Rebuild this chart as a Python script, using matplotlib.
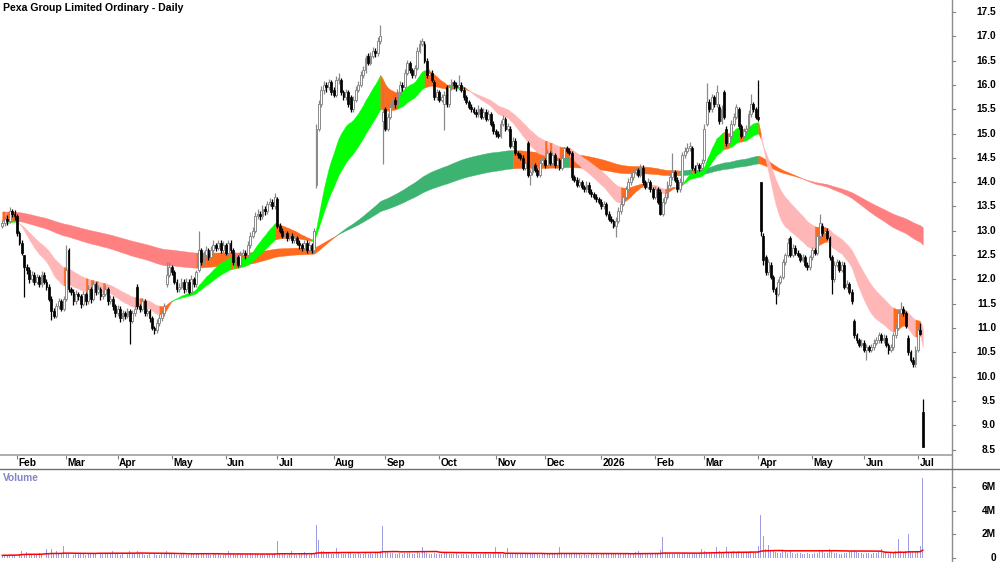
import numpy as np
import pandas as pd
import matplotlib
matplotlib.use("Agg")
import matplotlib.pyplot as plt
from matplotlib.lines import Line2D
from matplotlib.transforms import blended_transform_factory

plt.rcParams['font.family'] = ['Liberation Sans', 'DejaVu Sans']

title = "Pexa Group Limited Ordinary - Daily"
start_date = "2025-01-24"

opens = [
13.10,13.15,13.25,13.20,13.40,13.35,13.30,12.95,12.75,12.50,12.25,12.20,12.00,12.10,11.95,12.05,11.90,12.10,11.95,11.85,
11.60,11.35,11.25,11.45,11.55,11.40,11.60,12.60,11.80,11.75,11.55,11.70,11.65,11.50,11.70,11.55,11.80,11.60,11.90,11.75,
11.80,11.65,11.70,11.80,11.55,11.60,11.45,11.30,11.40,11.20,11.30,11.25,11.35,11.15,11.30,11.85,11.45,11.40,11.55,11.30,
11.35,11.20,11.00,10.95,11.10,11.20,11.30,11.90,12.10,12.25,12.15,11.95,11.80,11.85,11.95,11.80,11.95,11.75,12.00,11.90,
12.20,12.60,12.35,12.50,12.60,12.45,12.60,12.70,12.65,12.75,12.60,12.70,12.55,12.75,12.60,12.35,12.45,12.30,12.50,12.55,
12.50,12.70,12.90,13.00,13.30,13.35,13.30,13.45,13.40,13.55,13.60,13.50,13.65,13.10,13.00,12.90,12.95,12.85,12.90,12.80,
12.85,12.75,12.70,12.65,12.75,12.60,12.70,12.60,13.95,15.10,15.60,15.90,16.00,15.95,16.05,15.90,15.80,16.10,16.10,15.85,
15.75,15.85,15.76,15.50,15.70,15.90,16.00,16.20,16.30,16.60,16.45,16.60,16.70,16.65,16.90,15.25,15.50,15.10,15.35,15.55,
15.70,15.60,15.85,16.00,15.95,16.25,16.45,16.30,16.20,16.35,16.70,16.85,16.85,16.50,16.20,16.25,16.05,15.75,15.85,15.70,
15.60,15.95,15.60,15.95,16.05,16.00,15.95,16.00,15.90,15.75,15.65,15.55,15.50,15.45,15.40,15.50,15.35,15.45,15.30,15.40,
15.20,15.05,15.00,14.95,15.20,15.30,15.10,15.10,14.75,14.85,14.60,14.55,14.50,14.30,14.80,14.15,14.20,14.35,14.25,14.15,
14.40,14.45,14.35,14.60,14.40,14.55,14.35,14.45,14.30,14.50,14.70,14.65,14.60,14.10,14.05,13.95,14.00,13.90,13.85,13.95,
13.80,13.75,13.70,13.65,13.60,13.50,13.55,13.35,13.25,13.20,13.10,13.20,13.40,13.55,13.70,13.85,14.00,14.10,14.20,14.25,
14.15,14.30,14.00,13.90,14.00,13.85,13.70,13.85,13.80,13.35,13.60,13.70,13.95,14.10,14.20,14.05,13.85,14.00,14.55,14.65,
14.70,14.70,14.30,14.25,14.35,14.30,14.45,15.20,15.65,15.50,15.75,15.60,15.55,15.25,15.85,15.10,14.80,14.95,15.20,15.35,
15.50,15.15,14.95,15.05,15.10,15.40,15.60,15.50,15.35,14.00,12.90,12.45,12.15,12.30,12.05,11.80,11.70,11.95,12.05,12.35,
12.50,12.85,12.50,12.65,12.55,12.50,12.40,12.45,12.30,12.25,12.45,12.60,12.55,12.90,13.10,12.95,13.00,12.85,12.45,12.00,
12.30,12.35,12.20,12.30,11.85,11.90,11.75,11.15,10.85,10.75,10.65,10.70,10.55,10.60,10.55,10.60,10.70,10.75,10.85,10.75,
10.80,10.65,10.55,10.60,10.85,11.00,11.30,11.40,11.30,10.80,10.50,10.35,10.25,10.55,10.95,9.27]

highs = [
13.22,13.30,13.32,13.49,13.45,13.42,13.35,13.00,12.82,12.50,12.32,12.25,12.18,12.15,12.12,12.10,12.18,12.15,12.00,11.90,
11.65,11.42,11.52,11.62,11.60,11.66,12.70,12.65,11.85,11.80,11.78,11.75,11.70,11.76,11.75,11.88,11.85,11.98,11.95,11.88,
11.85,11.78,11.88,11.85,11.68,11.65,11.50,11.48,11.45,11.38,11.35,11.42,11.40,11.38,11.48,11.90,11.50,11.62,11.60,11.42,
11.40,11.25,11.05,11.18,11.28,11.38,11.52,12.35,12.36,12.30,12.20,12.00,11.92,12.02,12.00,12.02,12.00,12.08,12.05,12.20,
13.00,12.65,12.58,12.68,12.65,12.68,12.80,12.75,12.82,12.80,12.78,12.75,12.82,12.80,12.65,12.52,12.50,12.58,12.62,12.60,
12.78,12.98,13.08,13.38,13.45,13.40,13.52,13.50,13.62,13.68,13.65,13.77,13.70,13.15,13.05,13.02,13.00,12.98,12.95,12.92,
12.90,12.80,12.75,12.82,12.80,12.78,12.75,13.05,15.20,15.68,15.98,16.08,16.05,16.12,16.10,15.95,16.18,16.24,16.15,15.90,
15.92,15.90,15.80,15.78,15.98,16.08,16.28,16.38,16.62,16.65,16.68,16.78,16.75,16.98,17.23,16.00,15.55,15.42,15.62,15.78,
15.75,15.92,16.08,16.05,16.32,16.52,16.50,16.35,16.42,16.78,16.92,16.96,16.90,16.55,16.32,16.30,16.10,15.92,15.90,15.82,
15.88,16.00,16.02,16.12,16.10,16.05,16.20,16.05,15.95,15.80,15.70,15.60,15.55,15.50,15.58,15.55,15.52,15.50,15.48,15.45,
15.25,15.10,15.05,15.28,15.38,15.35,15.22,15.15,14.92,14.90,14.65,14.60,14.55,14.48,14.85,14.28,14.42,14.40,14.30,14.48,
14.52,14.50,14.68,14.65,14.62,14.60,14.52,14.50,14.58,14.73,14.75,14.70,14.65,14.15,14.10,14.08,14.05,13.95,14.02,14.00,
13.85,13.80,13.75,13.70,13.65,13.62,13.60,13.40,13.30,13.25,13.28,13.48,13.62,13.78,13.92,14.08,14.18,14.28,14.32,14.30,
14.38,14.35,14.05,14.08,14.05,13.90,13.92,13.90,13.85,13.68,13.78,14.02,14.18,14.59,14.25,14.10,14.08,14.62,14.72,14.80,
14.82,14.75,14.35,14.42,14.40,14.48,15.20,16.03,15.72,15.82,15.80,15.99,15.60,15.58,15.90,15.15,15.02,15.28,15.42,15.60,
15.55,15.20,15.12,15.18,15.48,15.82,15.65,15.55,16.10,14.00,12.95,12.50,12.42,12.35,12.10,11.85,12.00,12.10,12.42,12.55,
12.85,12.90,12.72,12.70,12.60,12.55,12.52,12.50,12.35,12.50,12.67,12.65,12.98,13.35,13.15,13.08,13.05,12.90,12.50,12.38,
12.42,12.40,12.38,12.35,11.98,11.95,11.80,11.18,10.90,10.80,10.78,10.75,10.68,10.65,10.68,10.78,10.82,10.92,10.90,10.88,
10.85,10.70,10.68,10.92,11.08,11.38,11.53,11.45,11.35,10.85,10.55,10.40,10.62,11.02,11.10,9.54]

lows = [
13.05,13.10,13.12,13.15,13.28,13.22,12.90,12.70,12.50,11.64,12.12,11.92,11.95,11.88,11.90,11.85,11.85,11.90,11.78,11.55,
11.16,11.20,11.20,11.40,11.35,11.35,11.55,11.75,11.68,11.48,11.50,11.58,11.42,11.45,11.48,11.50,11.52,11.55,11.68,11.70,
11.58,11.60,11.65,11.48,11.50,11.38,11.22,11.25,11.12,11.15,11.18,11.20,10.68,11.10,11.25,11.40,11.32,11.35,11.25,11.25,
11.12,10.95,10.88,10.90,11.05,11.15,11.25,11.85,12.05,12.08,11.90,11.75,11.75,11.80,11.72,11.75,11.70,11.70,11.85,11.85,
12.15,12.30,12.30,12.45,12.40,12.40,12.55,12.58,12.60,12.55,12.55,12.50,12.50,12.55,12.30,12.28,12.25,12.25,12.45,12.42,
12.45,12.65,12.85,12.95,13.25,13.22,13.25,13.32,13.35,13.50,13.45,13.45,13.05,12.95,12.85,12.85,12.78,12.80,12.75,12.75,
12.70,12.62,12.58,12.60,12.55,12.55,12.55,12.55,13.87,15.05,15.55,15.82,15.85,15.90,15.80,15.75,15.75,16.02,15.80,15.70,
15.70,15.55,15.45,15.45,15.65,15.85,15.95,16.15,16.25,16.40,16.40,16.55,16.58,16.60,16.85,14.38,15.05,15.05,15.30,15.50,
15.52,15.55,15.80,15.88,15.90,16.20,16.25,16.15,16.15,16.30,16.65,16.80,16.45,16.15,16.15,16.05,15.70,15.70,15.65,15.65,
15.07,15.55,15.55,15.90,15.92,15.88,15.90,15.85,15.70,15.60,15.50,15.45,15.40,15.35,15.35,15.30,15.30,15.25,15.25,15.15,
15.00,14.92,14.90,14.90,15.15,15.05,15.05,14.70,14.70,14.55,14.50,14.45,14.25,14.25,14.10,13.94,14.15,14.20,14.10,14.10,
14.35,14.30,14.30,14.35,14.35,14.30,14.30,14.25,14.25,14.45,14.60,14.55,14.05,14.00,13.90,13.90,13.85,13.80,13.80,13.75,
13.70,13.65,13.60,13.55,13.45,13.45,13.30,13.20,13.15,13.05,12.87,13.15,13.35,13.50,13.65,13.80,13.95,14.05,14.15,14.10,
14.10,13.95,13.85,13.85,13.80,13.65,13.65,13.55,13.32,13.30,13.55,13.65,13.90,14.05,14.00,13.80,13.80,13.95,14.50,14.60,
14.65,14.25,14.18,14.20,14.22,14.25,14.40,15.15,15.45,15.45,15.55,15.55,15.20,15.20,15.30,14.75,14.75,14.90,15.15,15.30,
15.10,14.90,14.90,15.00,15.05,15.35,15.45,15.30,15.25,12.90,12.30,12.10,12.10,12.00,11.75,11.50,11.65,11.90,12.00,12.30,
12.45,12.45,12.45,12.50,12.45,12.35,12.35,12.25,12.19,12.20,12.40,12.50,12.50,12.85,12.90,12.90,12.80,12.40,11.70,11.95,
12.25,12.15,12.15,11.80,11.80,11.70,11.50,10.80,10.70,10.60,10.60,10.50,10.35,10.50,10.50,10.55,10.65,10.70,10.70,10.70,
10.60,10.47,10.50,10.55,10.80,10.95,11.25,11.25,11.00,10.45,10.30,10.20,10.20,10.50,10.85,8.55]

closes = [
13.15,13.25,13.20,13.40,13.35,13.30,12.95,12.75,12.55,12.25,12.20,12.00,12.10,11.95,12.05,11.90,12.10,11.95,11.85,11.60,
11.35,11.25,11.45,11.55,11.40,11.60,12.20,11.80,11.75,11.55,11.70,11.65,11.50,11.70,11.55,11.80,11.60,11.90,11.75,11.80,
11.65,11.70,11.80,11.55,11.60,11.45,11.30,11.40,11.20,11.30,11.25,11.35,11.15,11.30,11.40,11.45,11.40,11.55,11.30,11.35,
11.20,11.00,10.95,11.10,11.20,11.30,11.45,12.10,12.25,12.15,11.95,11.80,11.85,11.95,11.80,11.95,11.75,12.00,11.90,12.15,
12.60,12.35,12.50,12.60,12.45,12.60,12.70,12.65,12.75,12.60,12.70,12.55,12.75,12.60,12.35,12.45,12.30,12.50,12.55,12.50,
12.70,12.90,13.00,13.30,13.35,13.30,13.45,13.40,13.55,13.60,13.50,13.70,13.10,13.00,12.90,12.95,12.85,12.90,12.80,12.85,
12.75,12.70,12.65,12.75,12.60,12.70,12.60,13.00,15.10,15.60,15.90,16.00,15.95,16.05,15.85,15.80,16.10,16.15,15.85,15.75,
15.85,15.60,15.50,15.70,15.90,16.00,16.20,16.30,16.55,16.45,16.60,16.70,16.65,16.90,17.00,15.45,15.10,15.35,15.55,15.70,
15.60,15.85,16.00,15.95,16.25,16.45,16.30,16.20,16.35,16.70,16.85,16.90,16.50,16.20,16.25,16.10,15.75,15.85,15.70,15.75,
15.80,15.60,15.95,16.05,16.00,15.95,16.00,15.90,15.75,15.65,15.55,15.50,15.45,15.40,15.50,15.35,15.45,15.30,15.40,15.20,
15.05,15.00,14.95,15.20,15.30,15.10,15.15,14.75,14.85,14.60,14.55,14.50,14.30,14.40,14.15,14.20,14.35,14.25,14.15,14.40,
14.45,14.35,14.60,14.40,14.55,14.35,14.45,14.30,14.50,14.70,14.65,14.60,14.10,14.05,13.95,14.00,13.90,13.85,13.95,13.80,
13.75,13.70,13.65,13.60,13.50,13.55,13.35,13.25,13.20,13.10,13.20,13.40,13.55,13.70,13.85,14.00,14.10,14.20,14.25,14.15,
14.30,14.00,13.90,14.00,13.85,13.70,13.85,13.60,13.35,13.60,13.70,13.95,14.10,14.20,14.05,13.85,14.00,14.55,14.65,14.70,
14.75,14.30,14.25,14.35,14.30,14.40,15.10,15.65,15.50,15.75,15.60,15.85,15.25,15.50,15.35,14.80,14.95,15.20,15.35,15.55,
15.15,14.95,15.05,15.10,15.40,15.60,15.50,15.35,15.30,13.00,12.40,12.15,12.35,12.05,11.80,11.70,11.95,12.05,12.35,12.50,
12.75,12.50,12.65,12.55,12.50,12.40,12.45,12.30,12.25,12.45,12.60,12.55,12.90,13.15,12.95,13.00,12.85,12.45,12.00,12.30,
12.35,12.20,12.30,11.85,11.90,11.75,11.55,10.85,10.75,10.65,10.70,10.55,10.60,10.55,10.60,10.70,10.75,10.85,10.75,10.80,
10.65,10.55,10.60,10.85,11.00,11.30,11.40,11.30,11.05,10.50,10.35,10.25,10.55,10.95,10.88,8.55]

volume_m = [
0.22,0.25,0.20,0.28,0.24,0.22,0.30,0.35,0.55,0.32,0.50,0.30,0.28,0.35,0.33,0.40,0.30,0.75,0.75,0.38,
0.75,0.40,0.60,0.35,0.30,1.00,0.45,0.40,0.28,0.25,0.30,0.35,0.40,0.32,0.28,0.35,0.30,0.38,0.33,0.85,
0.40,0.35,0.30,0.38,0.42,0.55,0.36,0.30,0.28,0.40,0.33,0.35,0.60,0.45,0.30,0.55,0.40,0.35,0.28,0.25,
0.30,0.26,0.35,0.28,0.24,0.30,0.32,0.60,0.45,0.38,0.30,0.28,0.25,0.30,0.35,0.28,0.22,0.30,0.33,0.40,
0.45,0.40,0.35,0.38,0.30,0.28,0.35,0.30,0.32,0.28,0.25,0.30,0.55,0.35,0.30,0.28,0.40,0.33,0.30,0.28,
0.35,0.40,0.38,0.30,0.33,0.28,0.30,0.26,0.35,0.30,0.32,0.40,1.45,0.45,0.35,0.30,0.28,0.32,0.55,0.30,
0.28,0.30,0.35,0.50,0.30,0.28,0.33,0.40,2.80,1.50,0.60,0.55,0.50,0.40,0.38,0.35,0.85,0.40,0.35,0.33,
0.38,0.45,0.40,0.35,0.30,0.40,0.35,0.33,0.45,0.38,0.40,0.35,0.50,0.45,0.55,2.70,0.60,0.50,0.45,0.40,
0.38,0.35,0.40,0.33,0.45,0.40,0.42,0.38,0.35,0.50,0.45,0.90,0.50,0.40,0.35,0.33,0.40,0.38,0.30,0.35,
0.45,0.40,0.35,0.30,0.33,0.40,0.28,0.30,0.35,0.30,0.28,0.33,0.30,0.35,0.28,0.30,0.33,0.40,0.30,0.35,
0.45,0.90,0.40,0.35,0.30,0.33,0.85,0.45,0.40,0.35,0.38,0.30,0.33,0.40,0.45,0.38,0.35,0.30,0.33,0.28,
0.30,0.35,0.38,0.30,0.40,0.45,0.35,0.95,0.40,0.33,0.30,0.35,0.45,0.38,0.30,0.33,0.28,0.30,0.25,0.28,
0.30,0.35,0.33,0.28,0.30,0.35,0.40,0.38,0.33,0.45,0.40,0.35,0.38,0.40,0.33,0.30,0.35,0.45,0.50,0.55,
0.45,0.40,0.38,0.35,0.40,0.45,0.38,0.40,0.70,1.80,0.50,0.45,0.40,0.38,0.35,0.40,0.33,0.45,0.40,0.35,
0.38,0.40,0.35,0.33,0.40,0.75,0.55,0.50,0.45,0.40,0.50,0.90,0.55,0.45,0.50,0.90,0.45,0.40,0.55,0.50,
0.60,0.45,0.50,0.40,0.45,0.55,0.50,0.45,1.00,3.60,1.90,0.80,1.10,0.60,0.55,0.50,0.45,0.40,0.70,0.50,
0.45,0.55,0.40,0.35,0.45,0.40,0.38,0.33,0.40,0.35,0.38,0.45,0.40,0.55,0.60,0.45,0.40,0.80,0.55,0.45,
0.40,0.35,0.38,0.45,0.40,0.50,0.55,0.65,0.50,0.45,0.40,0.38,0.45,0.40,0.35,0.40,0.45,0.50,0.80,0.45,
0.40,0.38,0.45,0.50,0.55,1.60,0.55,0.50,0.60,2.00,0.55,0.50,0.60,0.55,1.00,6.80]

price_ticks = [8.5, 9.0, 9.5, 10.0, 10.5, 11.0, 11.5, 12.0, 12.5, 13.0, 13.5,
               14.0, 14.5, 15.0, 15.5, 16.0, 16.5, 17.0, 17.5]
volume_ticks = [0, 2, 4, 6]
volume_tick_labels = ["0", "2M", "4M", "6M"]
month_names = ["Jan", "Feb", "Mar", "Apr", "May", "Jun", "Jul", "Aug", "Sep",
               "Oct", "Nov", "Dec"]

short_periods = (18, 35)
long_periods = (150, 220)
long_band_start = (13.20, 13.40)   # long averages at the left edge of the chart
volume_ma_period = 50

# ---------------------------------------------------------------------------
o = np.array(opens); h = np.array(highs); l = np.array(lows); c = np.array(closes)
vol = np.array(volume_m)
n = len(c)
x = np.arange(n)
dates = pd.bdate_range(start_date, periods=n)

W, H = 1000, 562
fig = plt.figure(figsize=(W / 100, H / 100), dpi=100)
fig.patch.set_facecolor("white")

main_bottom = 455
vol_top = 469
ax = fig.add_axes([0, 1 - main_bottom / H, 952 / W, main_bottom / H])
vax = fig.add_axes([0, 0, 952 / W, (H - vol_top) / H])

x_left, x_right = -0.925, 386.9
ax.set_xlim(x_left, x_right)
vax.set_xlim(x_left, x_right)
ax.set_ylim(8.387, 17.747)
vax.set_ylim(-0.338, 7.52)

def ema(vals, span, seed=None):
    alpha = 2.0 / (span + 1)
    out = np.empty(len(vals))
    prev = vals[0] if seed is None else seed
    for i, v in enumerate(vals):
        prev = prev + alpha * (v - prev)
        out[i] = prev
    return out

def band_colors(fast, slow, up, down, mixed):
    d = np.diff(fast, prepend=fast[0])
    cols = []
    for f, s, dd in zip(fast, slow, d):
        if f > s and dd > 0:
            cols.append(up)
        elif f < s and dd < 0:
            cols.append(down)
        else:
            cols.append(mixed)
    return cols

def fill_band(axis, fast, slow, cols, z):
    lo = np.minimum(fast, slow)
    hi = np.maximum(fast, slow)
    start = 0
    for i in range(1, n + 1):
        if i == n or cols[i] != cols[start]:
            s0 = max(start - 1, 0)
            axis.fill_between(x[s0:i], lo[s0:i], hi[s0:i], color=cols[start],
                              linewidth=0.3, edgecolor=cols[start], zorder=z)
            start = i

ORANGE = "#ff6a1f"
lf = ema(c, long_periods[0], long_band_start[0])
ls = ema(c, long_periods[1], long_band_start[1])
sf, ss = ema(c, short_periods[0]), ema(c, short_periods[1])
fill_band(ax, lf, ls, band_colors(lf, ls, "#3cb371", "#ff8080", ORANGE), 1)
fill_band(ax, sf, ss, band_colors(sf, ss, "#00ff00", "#ffb6b6", ORANGE), 2)

up = c >= o
dn = ~up
ax.vlines(x[up], l[up], h[up], color="#8a8a8a", linewidth=0.9, zorder=3)
ax.vlines(x[dn], l[dn], h[dn], color="black", linewidth=0.9, zorder=3)
body_up = np.maximum(c[up] - o[up], 0.02)
body_dn = np.maximum(o[dn] - c[dn], 0.02)
ax.bar(x[up], body_up, bottom=o[up], width=0.75, color="white",
       edgecolor="#8a8a8a", linewidth=0.7, zorder=4)
ax.bar(x[dn], body_dn, bottom=c[dn], width=0.75, color="black",
       edgecolor="black", linewidth=0.5, zorder=4)

# volume
vax.bar(x, vol, width=0.4, color="#9d9de0", linewidth=0, zorder=2)
vma = pd.Series(vol).rolling(volume_ma_period, min_periods=1).mean().to_numpy()
vax.plot(x, vma, color="#ff0000", linewidth=1.1, zorder=3)

for a in (ax, vax):
    for s in a.spines.values():
        s.set_visible(False)
    a.set_yticks([])
    a.tick_params(left=False, right=False, labelleft=False, labelright=False)
    a.set_facecolor("white")

# month ticks
tick_pos, tick_lab = [], []
for i in range(1, n):
    if dates[i].month != dates[i - 1].month:
        tick_pos.append(i)
        d = dates[i]
        tick_lab.append(str(d.year) if d.month == 1 else month_names[d.month - 1])
ax.set_xticks(tick_pos)
ax.set_xticklabels([])
ax.tick_params(axis="x", direction="out", length=3, width=0.8, color="#808080",
               bottom=True, labelbottom=False)
vax.set_xticks([])
ax.spines["bottom"].set_visible(True)
ax.spines["bottom"].set_color("#a0a0a0")
ax.spines["bottom"].set_linewidth(1.2)

lab_tr = blended_transform_factory(ax.transData, fig.transFigure)
for p, t in zip(tick_pos, tick_lab):
    ax.text(p + 0.6, 1 - 462.5 / H, t, transform=lab_tr, ha="left", va="center",
            fontsize=7.3, fontweight="bold", color="black", clip_on=False)

# price axis labels
ptr = blended_transform_factory(fig.transFigure, ax.transData)
for v in price_ticks:
    ax.text(996 / W, v, f"{v:.1f}", transform=ptr, ha="right", va="center",
            fontsize=7.3, fontweight="bold", color="black", clip_on=False)
    ax.add_line(Line2D([952 / W, 955 / W], [v, v], transform=ptr, color="#808080",
                       linewidth=0.8, clip_on=False))
vtr = blended_transform_factory(fig.transFigure, vax.transData)
for v, t in zip(volume_ticks, volume_tick_labels):
    vax.text(996 / W, v, t, transform=vtr, ha="right", va="center",
             fontsize=7.3, fontweight="bold", color="black", clip_on=False)
    vax.add_line(Line2D([952 / W, 955 / W], [v, v], transform=vtr, color="#808080",
                        linewidth=0.8, clip_on=False))

# frame lines
fig.add_artist(Line2D([952 / W, 952 / W], [0, 1], transform=fig.transFigure,
                      color="#8c8c8c", linewidth=1.0))
fig.add_artist(Line2D([0, 1], [1 - vol_top / H, 1 - vol_top / H],
                      transform=fig.transFigure, color="#707070", linewidth=1.0))

fig.text(3 / W, 1 - 8 / H, title, ha="left", va="center", fontsize=7.6,
         fontweight="bold", color="black")
fig.text(3 / W, 1 - 478 / H, "Volume", ha="left", va="center", fontsize=7.3,
         fontweight="bold", color="#8484c8")

fig.savefig("out.png", dpi=100, facecolor="white")
